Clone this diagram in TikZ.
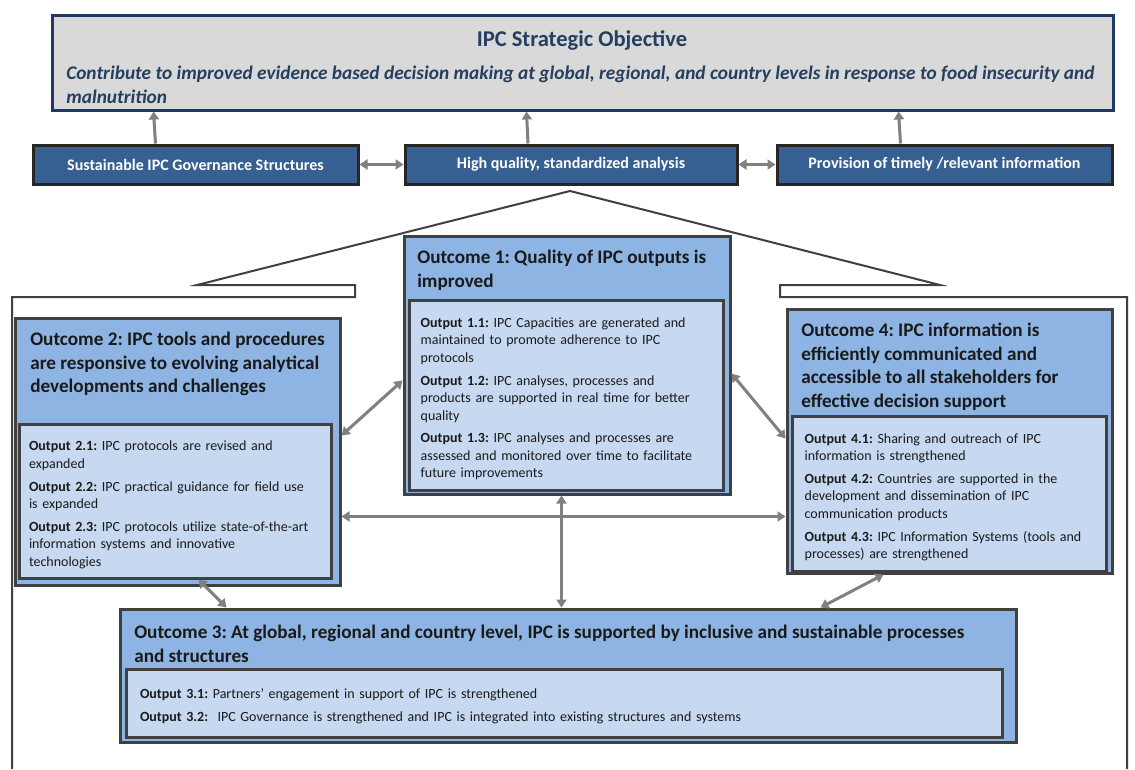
\documentclass[tikz,border=0pt]{standalone}
\usepackage{fontspec}
\setmainfont{Carlito}
\usetikzlibrary{arrows.meta,calc}

\definecolor{objfill}{HTML}{D9D9D9}
\definecolor{objline}{HTML}{1F3864}
\definecolor{objtext}{HTML}{243F60}
\definecolor{barfill}{HTML}{376092}
\definecolor{barline}{HTML}{262626}
\definecolor{ocfill}{HTML}{8DB4E2}
\definecolor{infill}{HTML}{C6D9F1}
\definecolor{boxline}{HTML}{404040}
\definecolor{linkgray}{HTML}{808080}
\definecolor{textdark}{HTML}{1A1A1A}

\frenchspacing

\begin{document}
\begin{tikzpicture}[
    x=0.75pt, y=-0.75pt,
    objbox/.style={draw=objline, fill=objfill, line width=2.25pt, inner sep=0pt},
    barbox/.style={
      draw=barline, fill=barfill, line width=2.25pt, text=white,
      font=\fontsize{12}{14}\selectfont\bfseries, minimum height=29.25pt
    },
    outcomebox/.style={draw=boxline, fill=ocfill, line width=2.25pt, inner sep=0pt},
    outputbox/.style={
      draw=boxline, fill=infill, line width=2.25pt, align=left,
      text=textdark, font=\fontsize{10.5}{13.1}\selectfont
    },
    octitle/.style={
      anchor=north west, inner sep=0pt, align=left, text=textdark,
      font=\fontsize{14.4}{17.6}\selectfont\bfseries
    },
    frame/.style={draw=boxline, line width=1.5pt},
    uparrow/.style={draw=linkgray, line width=2.25pt, -{Triangle[length=6pt,width=7.5pt]}},
    link/.style={
      draw=linkgray, line width=2.25pt,
      {Triangle[length=6pt,width=7.5pt]}-{Triangle[length=6pt,width=7.5pt]}
    }
  ]
  \useasboundingbox[fill=white] (0,0) rectangle (1135,769);

  % strategic objective
  \node[objbox, minimum width=795.75pt, minimum height=71.25pt] (obj) at (582.5,62.5) {};
  \node[text=objtext, font=\fontsize{16.9}{20}\selectfont\bfseries] (objhead) at (582,40)
    {IPC Strategic Objective};
  \node[anchor=north west, inner sep=0pt, align=left, text=objtext,
        font=\fontsize{14.5}{18}\selectfont\bfseries\itshape] (objsub) at (66,66)
    {Contribute to improved evidence based decision making at global, regional, and country levels in response to food insecurity and\\
     malnutrition};

  % three pillars
  \node[barbox, minimum width=243.75pt] (gov) at (195.5,164.5) {Sustainable IPC Governance Structures};
  \node[barbox, minimum width=249pt] (hqa) at (571,164.5) {High quality, standardized analysis};
  \node[barbox, minimum width=251.25pt] (pti) at (944.5,164.5) {Provision of timely /relevant information};

  \draw[uparrow] ($(gov.north)+(-40,0)$) -- ($(obj.south west)+(103,0)$);
  \draw[uparrow] ($(hqa.north)+(-43,0)$) -- ($(obj.south west)+(476,0)$);
  \draw[uparrow] ($(pti.north)+(-44,0)$) -- ($(obj.south west)+(848,0)$);
  \draw[link] (gov.east) -- (hqa.west);
  \draw[link] (hqa.east) -- (pti.west);

  % roof and walls
  \draw[frame] (12,769) -- (12,297) -- (355,297) -- (355,285) -- (197,285)
    -- (570,191) -- (940,285) -- (780,285) -- (780,297) -- (1127,297) -- (1127,769);

  % outcome 1
  \node[outcomebox, minimum width=244.5pt, minimum height=193.5pt] (oc1) at (567,365) {};
  \node[octitle] (oc1t) at (417,250) {Outcome 1: Quality of IPC outputs is\\ improved};
  \node[outputbox, minimum width=235.5pt, minimum height=142.5pt,
        inner xsep=8.75pt, text width=218pt] (oc1in) at (566,395)
    {\rule{0pt}{13pt}\textbf{Output 1.1:} IPC Capacities are generated and\\
     maintained to promote adherence to IPC\\
     protocols\\[4pt]
     \textbf{Output 1.2:} IPC analyses, processes and\\
     products are supported in real time for better\\
     quality\\[4pt]
     \textbf{Output 1.3:} IPC analyses and processes are\\
     assessed and monitored over time to facilitate\\
     future improvements};

  % outcome 2
  \node[outcomebox, minimum width=243.75pt, minimum height=200.25pt] (oc2) at (177.5,451.5) {};
  \node[octitle] (oc2t) at (30,332)
    {Outcome 2: IPC tools and procedures\\ are responsive to evolving analytical\\ developments and challenges};
  \node[outputbox, minimum width=234pt, minimum height=115.5pt,
        inner xsep=7.5pt, text width=219pt] (oc2in) at (175,501)
    {\rule{0pt}{13pt}\textbf{Output 2.1:} IPC protocols are revised and\\
     expanded\\[4pt]
     \textbf{Output 2.2:} IPC practical guidance for field use\\
     is expanded\\[4pt]
     \textbf{Output 2.3:} IPC protocols utilize state-of-the-art\\
     information systems and innovative\\
     technologies};

  % outcome 4
  \node[outcomebox, minimum width=243.75pt, minimum height=198pt] (oc4) at (949.5,441) {};
  \node[octitle] (oc4t) at (801,323)
    {Outcome 4: IPC information is\\ efficiently communicated and\\ accessible to all stakeholders for\\ effective decision support};
  \node[outputbox, minimum width=235.5pt, minimum height=116.25pt,
        inner xsep=9.5pt, text width=216.5pt] (oc4in) at (949,493.5)
    {\rule{0pt}{13pt}\textbf{Output 4.1:} Sharing and outreach of IPC\\
     information is strengthened\\[4pt]
     \textbf{Output 4.2:} Countries are supported in the\\
     development and dissemination of IPC\\
     communication products\\[4pt]
     \textbf{Output 4.3:} IPC Information Systems (tools and\\
     processes) are strengthened};

  % outcome 3
  \node[outcomebox, minimum width=672pt, minimum height=99.75pt] (oc3) at (568,675.5) {};
  \node[octitle] (oc3t) at (134,625)
    {Outcome 3: At global, regional and country level, IPC is supported by inclusive and sustainable processes\\ and structures};
  \node[outputbox, minimum width=657pt, minimum height=51pt,
        inner xsep=10.5pt, text width=636pt] (oc3in) at (564,703)
    {\rule{0pt}{12pt}\textbf{Output 3.1:} Partners’ engagement in support of IPC is strengthened\\[4pt]
     \textbf{Output 3.2:}\ \ IPC Governance is strengthened and IPC is integrated into existing structures and systems};

  % links between outcomes
  \draw[link] ($(oc2.north east)+(0,119)$) -- ($(oc1.north west)+(0,146)$);
  \draw[link] ($(oc1.north east)+(0,139)$) -- ($(oc4.north west)+(0,131)$);
  \draw[link] ($(oc2.north east)+(0,200)$) -- ($(oc4.north west)+(0,209)$);
  \draw[link] ($(oc1.south west)+(159,0)$) -- ($(oc3.north west)+(443,0)$);
  \draw[link] ($(oc2in.south west)+(181,0)$) -- ($(oc3.north west)+(108,0)$);
  \draw[link] ($(oc4.south west)+(98,0)$) -- ($(oc3.north west)+(702,0)$);
\end{tikzpicture}
\end{document}
